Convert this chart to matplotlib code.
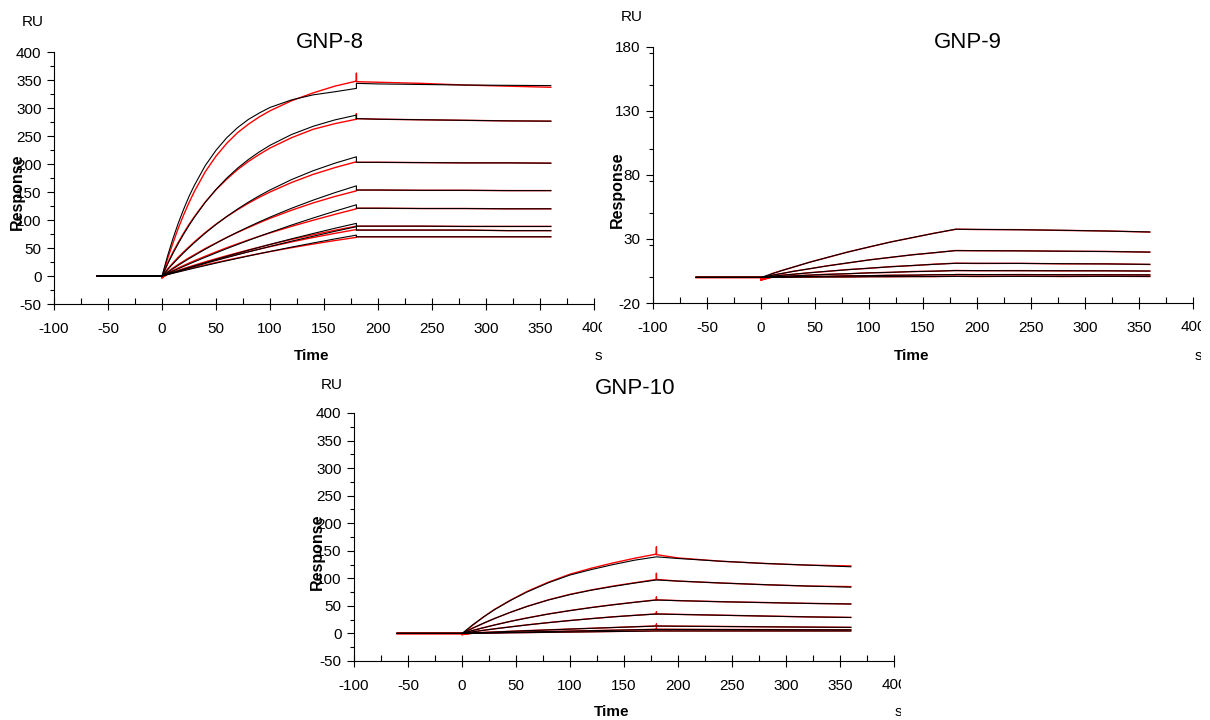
import matplotlib
matplotlib.use("Agg")
import matplotlib.pyplot as plt
from matplotlib.ticker import MultipleLocator
from matplotlib.transforms import Bbox, TransformedBbox

plt.rcParams["font.family"] = ["Liberation Sans", "DejaVu Sans"]
plt.rcParams["axes.unicode_minus"] = False

W, H = 1210, 720

# sample times (s)
T_BASE = [-60, 0]
T_ASSOC_FINE = [0, 5, 10, 15, 20, 25, 30, 40, 50, 60, 70, 80, 90, 100, 120, 140, 160, 180]
T_ASSOC = [0, 10, 20, 30, 45, 60, 80, 100, 120, 140, 160, 180]
T_DISS = [180, 200, 240, 280, 320, 360]

# ---- GNP-8 (RU), sampled on T_ASSOC_FINE ----
GNP8_FIT_ASSOC = [
    [0, 34.8, 66, 94, 119, 142, 162, 197, 224.5, 247, 265, 279.6, 291, 301, 314.5, 323.5, 329, 335],
    [0, 20.6, 39.8, 57.7, 74.5, 90.2, 104.9, 131.4, 154.6, 174.9, 192.6, 208, 221.5, 233.4, 252.7, 267.4, 278.7, 287.3],
    [0, 10.9, 21.5, 31.6, 41.3, 50.6, 59.5, 76.4, 92, 106.4, 119.6, 131.9, 143.2, 153.6, 172.2, 188, 201.4, 212.9],
    [0, 6.4, 12.8, 18.9, 25, 30.9, 36.6, 47.8, 58.4, 68.6, 78.4, 87.7, 96.6, 105.1, 121, 135.5, 148.8, 161],
    [0, 4.4, 8.7, 12.9, 17.1, 21.3, 25.4, 33.4, 41.2, 48.9, 56.3, 63.6, 70.7, 77.6, 91, 103.6, 115.7, 127.2],
    [0, 3.1, 6.2, 9.2, 12.2, 15.2, 18.1, 23.9, 29.6, 35.2, 40.6, 46, 51.2, 56.4, 66.4, 75.9, 85.2, 94],
    [0, 2.9, 5.8, 8.6, 11.4, 14.2, 16.9, 22.4, 27.7, 32.9, 38, 43.1, 47.9, 52.8, 62.2, 71, 79.7, 88],
    [0, 2.4, 4.8, 7.1, 9.5, 11.8, 14.1, 18.6, 23, 27.3, 31.5, 35.7, 39.8, 43.8, 51.6, 59, 66.2, 73],
]
GNP8_FIT_DISS = [
    [344, 343, 342, 341, 340.5, 340],
    [281, 280, 279, 278, 277, 276.5],
    [203, 203, 202.5, 202, 202, 201.5],
    [153.5, 153.5, 153, 153, 152.5, 152.5],
    [121, 121, 120.5, 120.5, 120, 120],
    [89, 89, 89, 88.5, 88.5, 88.5],
    [82, 82, 82, 82, 81, 81],
    [70, 70, 70, 70, 70, 70],
]
GNP8_DATA_ASSOC = [
    [-3, 30, 58, 85, 109, 131, 151, 186, 214, 237, 256, 271, 284, 295, 313, 327, 339, 348],
    [-3, 22, 42, 60, 76.5, 92, 106, 132, 154, 173, 190, 204.5, 217, 228.5, 247, 262, 272, 280],
    [-3, 12, 23, 33.5, 43, 52, 61, 77.5, 92.5, 106, 118.5, 130, 140.5, 150, 167, 181.5, 193.5, 204],
    [-3, 7, 14, 20.5, 26.5, 32.5, 38, 49, 59, 69, 78, 86.5, 95, 103, 117.5, 130.5, 142, 152],
    [-3, 5, 9.8, 14.3, 18.7, 23, 27.2, 35.3, 43, 50.5, 57.5, 64.3, 70.8, 77, 88.7, 99.6, 110, 120],
    [-3, 3.5, 6.8, 10, 13.2, 16.3, 19.3, 25.2, 30.8, 36.2, 41.4, 46.5, 51.4, 56.2, 65.3, 73.7, 81.6, 89],
    [-3, 3.3, 6.4, 9.4, 12.4, 15.3, 18.1, 23.6, 28.8, 33.8, 38.7, 43.4, 48, 52.4, 60.9, 68.8, 76.1, 83],
    [-3, 2.8, 5.4, 7.9, 10.4, 12.8, 15.1, 19.7, 24, 28.2, 32.2, 36.1, 39.9, 43.6, 50.6, 57.1, 63.3, 69],
]
GNP8_DATA_DISS = [
    [347, 346, 344, 341, 339, 337],
    [281, 280, 279, 278, 277, 276.5],
    [203, 203, 202.5, 202, 202, 201.5],
    [153.5, 153.5, 153, 153, 152.5, 152.5],
    [121, 121, 120.5, 120.5, 120, 120],
    [89, 89, 89, 88.5, 88.5, 88.5],
    [82, 82, 82, 82, 81, 81],
    [70, 70, 70, 70, 70, 70],
]
GNP8_SPIKE = [362, 290, None, None, None, None, None, None]

# ---- GNP-9 (RU), sampled on T_ASSOC ----
GNP9_FIT_ASSOC = [
    [0, 2.8, 5.5, 8.1, 11.8, 15.3, 19.7, 23.8, 27.6, 31.1, 34.4, 37.6],
    [0, 1.6, 3.2, 4.7, 6.8, 8.8, 11.3, 13.6, 15.7, 17.6, 19.3, 20.9],
    [0, 0.9, 1.7, 2.5, 3.6, 4.7, 6, 7.2, 8.3, 9.3, 10.2, 11],
    [0, 0.4, 0.8, 1.2, 1.8, 2.3, 2.9, 3.5, 4, 4.5, 4.9, 5.3],
    [0, 0.2, 0.3, 0.5, 0.7, 0.9, 1.2, 1.4, 1.6, 1.8, 2.0, 2.2],
    [0, 0.1, 0.1, 0.2, 0.3, 0.3, 0.4, 0.5, 0.6, 0.6, 0.7, 0.8],
]
GNP9_FIT_DISS = [
    [37.6, 37.5, 37.2, 36.8, 36.2, 35.5],
    [20.9, 20.9, 20.7, 20.5, 20.2, 19.8],
    [11, 11, 10.9, 10.7, 10.5, 10.2],
    [5.3, 5.3, 5.2, 5.2, 5.1, 5.0],
    [2.2, 2.2, 2.1, 2.1, 2.0, 2.0],
    [0.8, 0.8, 0.8, 0.8, 0.8, 0.8],
]
GNP9_DATA_ASSOC = [
    [-2, 2.9, 5.6, 8.0, 11.9, 15.2, 19.8, 23.7, 27.7, 31.0, 34.5, 37.5],
    [-2, 1.7, 3.1, 4.8, 6.7, 8.9, 11.2, 13.7, 15.6, 17.7, 19.2, 21.0],
    [-2, 0.8, 1.8, 2.4, 3.7, 4.6, 6.1, 7.1, 8.4, 9.2, 10.3, 11.1],
    [-2, 0.5, 0.7, 1.3, 1.7, 2.4, 2.8, 3.6, 3.9, 4.6, 4.8, 5.4],
    [-2, 0.1, 0.4, 0.4, 0.8, 0.8, 1.3, 1.3, 1.7, 1.7, 2.1, 2.1],
    [-2, 0.2, 0.0, 0.3, 0.2, 0.4, 0.3, 0.6, 0.5, 0.7, 0.6, 0.9],
]
GNP9_DATA_DISS = [
    [37.7, 37.4, 37.3, 36.7, 36.3, 35.4],
    [21.0, 20.8, 20.8, 20.4, 20.3, 19.7],
    [11.1, 10.9, 11.0, 10.6, 10.6, 10.1],
    [5.4, 5.2, 5.3, 5.1, 5.2, 4.9],
    [2.3, 2.1, 2.2, 2.0, 2.1, 1.9],
    [0.9, 0.7, 0.9, 0.7, 0.9, 0.7],
]
GNP9_SPIKE = [None] * 6

# ---- GNP-10 (RU), sampled on T_ASSOC ----
GNP10_FIT_ASSOC = [
    [0, 15.8, 30, 43, 60, 75, 92, 106, 116, 125, 133, 139],
    [0, 9.8, 18.7, 27, 38.5, 48.8, 60.7, 70.5, 78.6, 85.3, 91.5, 97],
    [0, 5.3, 10.4, 15.2, 21.9, 27.9, 35.2, 41.4, 47, 52, 56.5, 60.6],
    [0, 2.9, 5.7, 8.3, 11.9, 15.4, 19.6, 23.4, 26.9, 30.1, 32.8, 35.2],
    [0, 0.9, 1.8, 2.6, 3.8, 5, 6.4, 7.9, 9.3, 10.7, 12.1, 13.4],
    [0, 0.4, 0.9, 1.3, 2, 2.6, 3.4, 4.2, 5, 5.8, 6.6, 7.4],
    [0, 0.3, 0.5, 0.8, 1.2, 1.5, 2, 2.5, 3, 3.5, 4, 4.5],
]
GNP10_FIT_DISS = [
    [139, 136, 131, 127, 124, 121],
    [97, 95, 91.5, 88.5, 86, 84],
    [60.6, 59.5, 57.5, 56, 54.5, 53.4],
    [35.2, 34.5, 33, 31.5, 30, 29],
    [13.4, 13.1, 12.6, 12, 11.5, 11],
    [7.4, 7.3, 7.1, 6.9, 6.7, 6.6],
    [4.5, 4.5, 4.5, 4.5, 4.5, 4.5],
]
GNP10_DATA_ASSOC = [
    [-2, 15, 30, 43.5, 60.5, 76, 93, 107.5, 118.5, 128, 136.5, 144],
    [-2, 9.5, 18.5, 27, 38.5, 49, 61, 71, 79, 86, 92, 98],
    [-2, 5.5, 10.6, 15.4, 22.1, 28.1, 35.4, 41.6, 47.2, 52.2, 56.7, 61],
    [-2, 3.0, 5.8, 8.4, 12.0, 15.5, 19.7, 23.5, 27.0, 30.2, 32.9, 35.5],
    [-2, 1.0, 1.9, 2.7, 3.9, 5.1, 6.5, 8.0, 9.4, 10.8, 12.2, 13.6],
    [-2, 0.5, 1.0, 1.4, 2.1, 2.7, 3.5, 4.3, 5.1, 5.9, 6.7, 7.5],
    [-2, 0.4, 0.6, 0.9, 1.3, 1.6, 2.1, 2.6, 3.1, 3.6, 4.1, 4.6],
]
GNP10_DATA_DISS = [
    [143, 137, 131, 127, 124, 122.5],
    [98, 95, 91.5, 88.5, 86, 85],
    [61, 59.6, 57.6, 56.1, 54.6, 53.5],
    [35.5, 34.6, 33.1, 31.6, 30.1, 29.1],
    [13.6, 13.2, 12.7, 12.1, 11.6, 11.1],
    [7.5, 7.4, 7.2, 7.0, 6.8, 6.7],
    [4.6, 4.6, 4.6, 4.6, 4.6, 4.6],
]
GNP10_SPIKE = [157, 109, 66, 39, 17, 10, None]

PANELS = [
    dict(name="GNP-8", rect=[54, 52, 540, 252], ylim=(-50, 400), ystep=50, t_assoc=T_ASSOC_FINE,
         fit=(GNP8_FIT_ASSOC, GNP8_FIT_DISS), data=(GNP8_DATA_ASSOC, GNP8_DATA_DISS),
         spike=GNP8_SPIKE, title=(330, 43), ru=(33, 22), resp=(17, 192),
         time=(312, 356), s=(598, 356), clip=602),
    dict(name="GNP-9", rect=[653, 47, 540, 256], ylim=(-20, 180), ystep=50, t_assoc=T_ASSOC,
         fit=(GNP9_FIT_ASSOC, GNP9_FIT_DISS), data=(GNP9_DATA_ASSOC, GNP9_DATA_DISS),
         spike=GNP9_SPIKE, title=(968, 43), ru=(632, 17), resp=(617, 190),
         time=(912, 356), s=(1198, 356), clip=1201),
    dict(name="GNP-10", rect=[354, 413, 540, 248], ylim=(-50, 400), ystep=50, t_assoc=T_ASSOC,
         fit=(GNP10_FIT_ASSOC, GNP10_FIT_DISS), data=(GNP10_DATA_ASSOC, GNP10_DATA_DISS),
         spike=GNP10_SPIKE, title=(635, 388), ru=(332, 385), resp=(317, 552),
         time=(612, 712), s=(898, 712), clip=901),
]

XTICKS = list(range(-100, 401, 50))


def fpos(x, y):
    return x / W, 1 - y / H


fig = plt.figure(figsize=(W / 100, H / 100), dpi=100)

for p in PANELS:
    x0, y0, w, h = p["rect"]
    ax = fig.add_axes([x0 / W, 1 - (y0 + h) / H, w / W, h / H])
    fa, fd = p["fit"]
    da, dd = p["data"]
    ta = p["t_assoc"]
    for i in range(len(fa)):
        # measured curve (red): baseline, association, injection-stop spike, dissociation
        tx = T_BASE + ta
        ty = [0, 0] + da[i]
        if p["spike"][i] is not None:
            tx = tx + [180]
            ty = ty + [p["spike"][i]]
        ax.plot(tx + T_DISS, ty + dd[i], color="#ff0000", lw=1.0, zorder=2)
    for i in range(len(fa)):
        # fitted curve (black)
        ax.plot(T_BASE + ta + T_DISS, [0, 0] + fa[i] + fd[i],
                color="black", lw=0.8, zorder=3)

    ax.set_xlim(-100, 400)
    ax.set_ylim(*p["ylim"])
    ax.set_xticks(XTICKS)
    ax.set_xticklabels([str(v) for v in XTICKS[:-1]] + [""])
    ax.set_yticks(range(p["ylim"][0], p["ylim"][1] + 1, p["ystep"]))
    ax.xaxis.set_minor_locator(MultipleLocator(25))
    ax.yaxis.set_minor_locator(MultipleLocator(p["ystep"] / 2))
    for s in ("top", "right"):
        ax.spines[s].set_visible(False)
    for s in ("left", "bottom"):
        ax.spines[s].set_linewidth(0.8)
    ax.tick_params(axis="x", which="major", direction="inout", length=8,
                   width=0.8, labelsize=11, pad=9)
    ax.tick_params(axis="x", which="minor", direction="in", length=4, width=0.8)
    ax.tick_params(axis="y", which="major", direction="out", length=5,
                   width=0.8, labelsize=11, pad=4)
    ax.tick_params(axis="y", which="minor", direction="out", length=3, width=0.8)

    # the source panels were cropped on the right: last tick label and unit cut off
    box = TransformedBbox(Bbox([[0, 0], [p["clip"] / W, 1]]), fig.transFigure)
    last = fig.text(*fpos(x0 + w, y0 + h + 24), str(XTICKS[-1]),
                    ha="center", va="center", fontsize=11)
    last.set_clip_box(box)
    last.set_clip_on(True)

    fig.text(*fpos(*p["title"]), p["name"], ha="center", va="center", fontsize=16)
    fig.text(*fpos(*p["ru"]), "RU", ha="center", va="center", fontsize=11)
    fig.text(*fpos(*p["resp"]), "Response", ha="center", va="center",
             rotation=90, fontsize=11.5, fontweight="bold")
    fig.text(*fpos(*p["time"]), "Time", ha="center", va="center",
             fontsize=11, fontweight="bold")
    st = fig.text(*fpos(*p["s"]), "s", ha="center", va="center", fontsize=11)
    st.set_clip_box(box)
    st.set_clip_on(True)

fig.savefig("out.png", dpi=100)
